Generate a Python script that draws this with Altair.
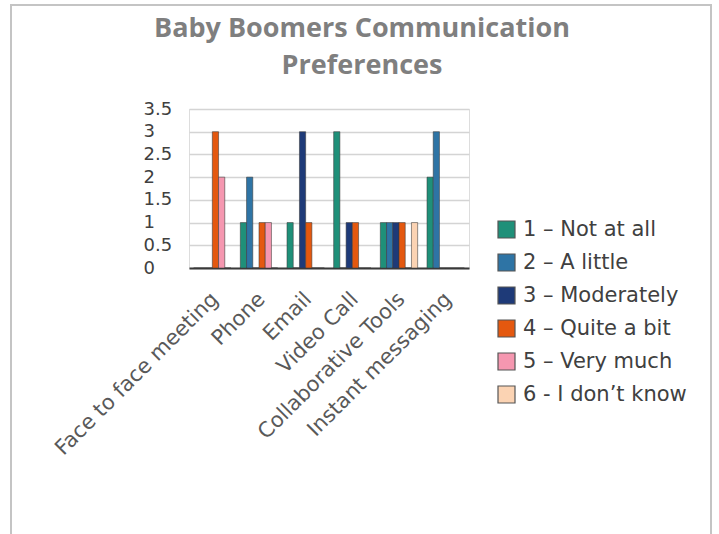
import altair as alt
import pandas as pd

# Communication channels (x categories)
channels = [
    "Face to face meeting",
    "Phone",
    "Email",
    "Video Call",
    "Collaborative Tools",
    "Instant messaging",
]

# Response levels (series) and their colours
levels = [
    "1 – Not at all",
    "2 – A little",
    "3 – Moderately",
    "4 – Quite a bit",
    "5 – Very much",
    "6 - I don’t know",
]
level_colors = ["#1f9079", "#2e74a5", "#1e3a78", "#e4580f", "#f597b0", "#fbd3b3"]

# Counts per level, one value per channel
not_at_all = [0, 1, 1, 3, 1, 2]
a_little = [0, 2, 0, 0, 1, 3]
moderately = [0, 0, 3, 1, 1, 0]
quite_a_bit = [3, 1, 1, 1, 1, 0]
very_much = [2, 1, 0, 0, 0, 0]
dont_know = [0, 0, 0, 0, 1, 0]

series = [not_at_all, a_little, moderately, quite_a_bit, very_much, dont_know]

rows = []
for level, values in zip(levels, series):
    for channel, v in zip(channels, values):
        rows.append({"channel": channel, "level": level, "count": v})
df = pd.DataFrame(rows)

FONT = "DejaVu Sans"
TITLE_FONT = "Open Sans"
TEXT = "#404040"

bars = alt.Chart(df).mark_bar(
    stroke="#3a3a3a", strokeWidth=0.8, strokeOpacity=0.7
).encode(
    x=alt.X(
        "channel:N",
        sort=channels,
        title=None,
        scale=alt.Scale(paddingInner=0, paddingOuter=0),
        axis=alt.Axis(
            labelAngle=315,
            labelAlign="right",
            labelBaseline="top",
            labelPadding=20,
            labelOffset=-5,
            labelLimit=400,
            labelFont=FONT,
            labelFontSize=21,
            labelColor="#595959",
            ticks=False,
            domainColor="#3a3a3a",
            domainWidth=2,
            grid=False,
        ),
    ),
    xOffset=alt.XOffset(
        "level:N",
        sort=levels,
        scale=alt.Scale(paddingInner=0, paddingOuter=0.75),
    ),
    y=alt.Y(
        "count:Q",
        title=None,
        scale=alt.Scale(domain=[0, 3.5], nice=False),
        axis=alt.Axis(
            values=[0, 0.5, 1, 1.5, 2, 2.5, 3, 3.5],
            labelExpr="datum.value",
            labelAlign="left",
            labelBaseline="middle",
            labelPadding=46,
            labelFont=FONT,
            labelFontSize=18,
            labelColor=TEXT,
            ticks=False,
            tickSize=0,
            domain=False,
            gridColor="#d4d4d4",
            gridWidth=1.5,
        ),
    ),
    color=alt.Color(
        "level:N",
        sort=levels,
        scale=alt.Scale(domain=levels, range=level_colors),
        legend=alt.Legend(
            title=None,
            orient="none",
            legendX=307,
            legendY=110,
            symbolType="square",
            symbolSize=289,
            symbolStrokeColor="#555555",
            symbolStrokeWidth=1.2,
            labelFont=FONT,
            labelFontSize=21,
            labelColor=TEXT,
            labelOffset=6,
            labelLimit=300,
            rowPadding=10,
        ),
    ),
)

# Outer chart border
frame_df = pd.DataFrame({"k": [0]})
frame = alt.Chart(frame_df).mark_rect(
    fill=None, stroke="#c4c4c4", strokeWidth=2
).encode(
    x=alt.value(-178),
    x2=alt.value(522),
    y=alt.value(-104),
    y2=alt.value(445),
)

# The title is offset from the content bounds, whose top is the border at -105
chart = alt.layer(frame, bars).properties(
    width=280,
    height=159,
    autosize="none",
    padding={"left": 189, "top": 109, "right": 250, "bottom": 266},
    title=alt.TitleParams(
        text=["Baby Boomers Communication", "Preferences"],
        font=TITLE_FONT,
        fontSize=27,
        fontWeight="bold",
        color="#7f7f7f",
        anchor="middle",
        frame="group",
        dx=33,
        offset=-76,
        lineHeight=37,
    ),
).configure_view(
    stroke="#a0a0a0", strokeWidth=1.5
).configure(background="white")

chart.save("out.html", embed_options={"renderer": "svg", "actions": False})
